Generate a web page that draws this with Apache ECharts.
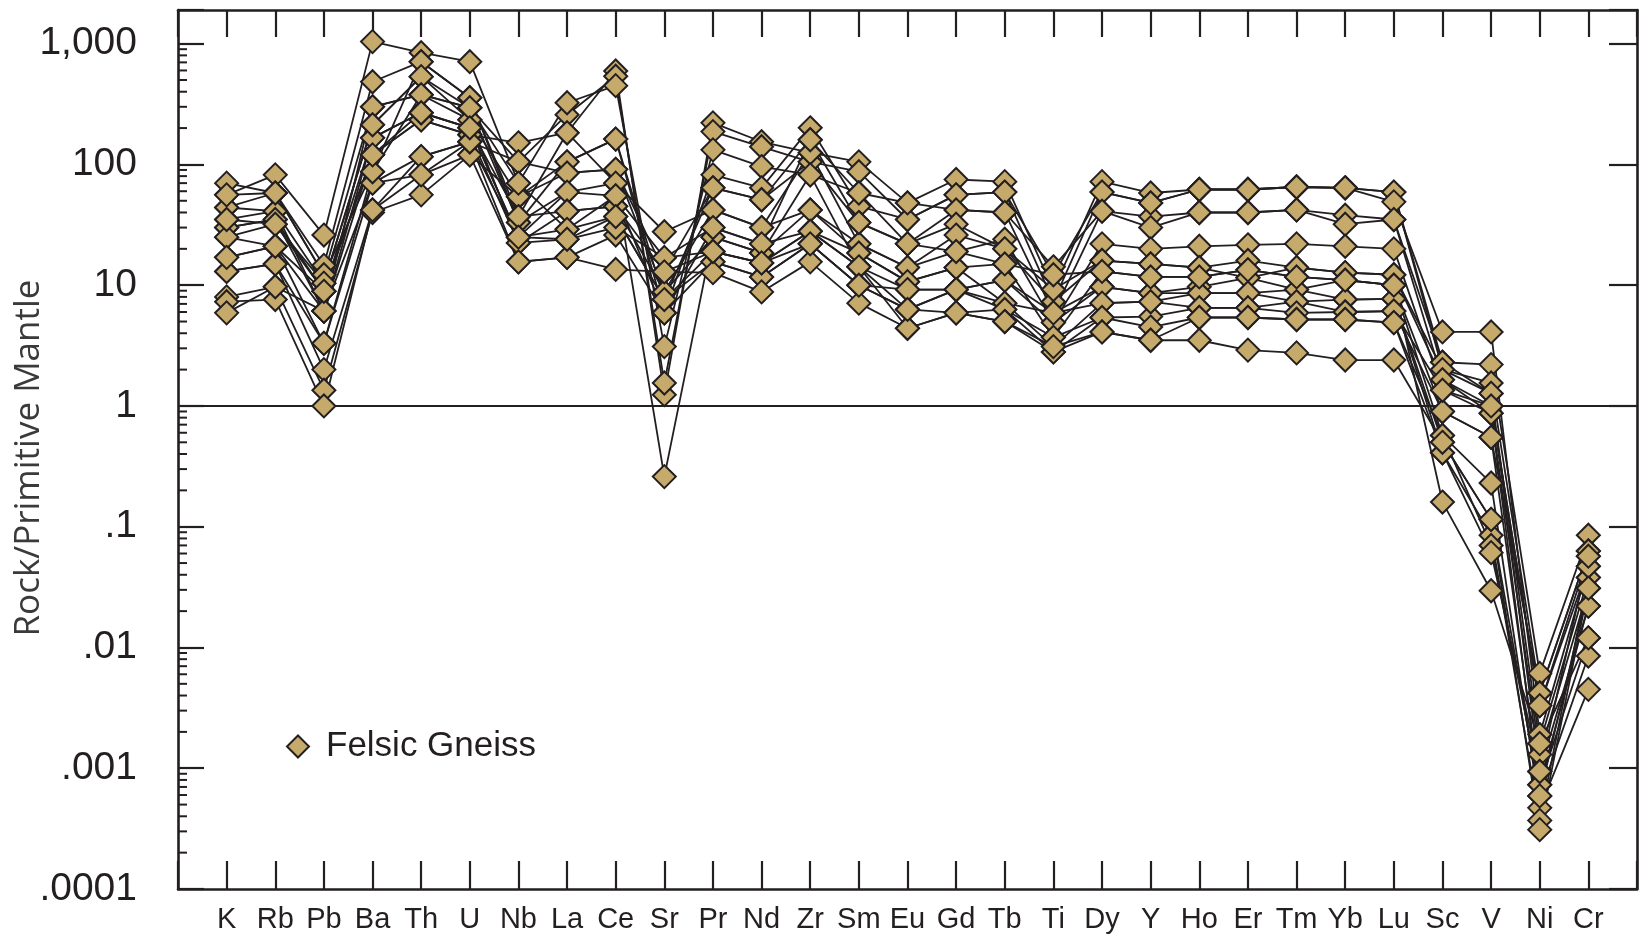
<!DOCTYPE html>
<html><head><meta charset="utf-8">
<script src="https://cdn.jsdelivr.net/npm/echarts@6/dist/echarts.min.js"></script>
<style>html,body{margin:0;padding:0;background:#fff}#c{width:1645px;height:942px}</style>
</head><body><div id="c"></div>
<script>
// ---- data ----
const elements = ['K','Rb','Pb','Ba','Th','U','Nb','La','Ce','Sr','Pr','Nd','Zr','Sm','Eu','Gd','Tb','Ti','Dy','Y','Ho','Er','Tm','Yb','Lu','Sc','V','Ni','Cr'];
const yTickLabels = ['.0001','.001','.01','.1','1','10','100','1,000'];
const seriesName = 'Felsic Gneiss';
const yAxisTitle = 'Rock/Primitive Mantle';

const s01 = [30,35,6.1,120,234,176,151,183,594,1.24,221,154,125,105,48,75,72,9.2,72,58,62,62,65,64,59,2.3,2.2,0.0061,0.085];
const s02 = [44,58,12.2,300,378,295,105,258,537,1.55,187,140,105,87,35,56,59,7.3,59,48,62,62,65,64,59,2.0,1.55,0.0042,0.063];
const s03 = [56,82,26,1040,842,709,70,324,449,3.1,132,96,82,58,22,42,40,5.9,41,37,40,40,42,38,35,1.65,1.0,0.0033,0.057];
const s04 = [13,15,2.0,42,82,120,54,105,162,5.9,82,64,201,45,35,56,59,12.2,59,48,62,62,65,64,49,4.1,4.1,0.0019,0.047];
const s05 = [17,21,3.3,70,116,154,105,85,91,12.9,64,51,160,58,48,42,40,14.2,41,30,40,40,42,32,35,2.3,1.27,0.0016,0.038];
const s06 = [70,58,14.6,484,709,357,37,183,70,27.7,42,30,42,22,14,19,24,4.9,22,20,21,21.6,22,21,20,1.35,0.87,0.0013,0.031];
const s07 = [35,41,10.4,213,533,295,33,105,162,7.6,64,51,105,33,22,32,20,7.3,16,15,14,16,14,12.7,12.2,2.0,1.27,0.00094,0.022];
const s08 = [25,32,8.9,166,268,201,25,59,55,16.9,30,22,28,18.5,10.7,14,15,3.7,13,11.7,11.7,13.4,11.7,11,10,0.9,0.55,0.00073,0.012];
const s09 = [44,41,6.1,300,378,234,54,85,91,8.8,42,30,125,22,14,26,20,9.2,16,15,14,11.5,14,12.7,12.2,1.65,0.87,0.00059,0.0085];
const s10 = [8,9.7,1.35,40,56,120,15.6,17,26,5.9,15.6,11.7,22,10,6.3,9.2,11,5.9,9.7,8.6,9.7,11.5,9.2,11,10,0.57,0.23,0.00047,0.0045];
const s11 = [56,58,12.2,87,709,357,33,59,70,0.26,25,18.5,82,14.2,4.4,5.9,6.3,2.8,5.4,5.5,6.5,6.5,7.3,7.6,7.7,0.41,0.085,0.00037,0.038];
const s12 = [30,35,8.9,120,234,176,22.4,41,45,12.9,19,15.3,28,14.2,6.3,9.2,7.1,3.1,7.1,7.3,8.6,8.6,9.2,7.6,7.7,0.5,0.115,0.00031,0.031];
const s13 = [7.3,7.6,1.0,42,116,154,25,29,37,7.6,15.6,11.7,22,10,9.2,9.2,11,4.9,9.7,8.6,8.6,8.6,7.3,6,6.1,0.9,0.55,0.0042,0.063];
const s14 = [25,21,6.1,166,268,201,37,41,45,8.8,25,18.5,42,18.5,10.7,14,7.1,5.9,7.1,7.3,6.5,6.5,5.9,6,6.1,1.35,1.0,0.0033,0.047];
const s15 = [35,32,10.4,213,533,234,22.4,24,30,16.9,19,15.3,28,14.2,9.2,9.2,6.3,3.7,5.4,4.5,5.4,5.4,5.2,5.2,4.9,0.57,0.07,0.00073,0.022];
const s16 = [5.9,9.7,6.1,70,82,154,15.6,17,13.5,12.9,12.7,8.8,15.6,7.1,4.4,5.9,5,2.8,4.1,3.5,5.4,5.4,5.2,5.2,4.9,0.41,0.061,0.00094,0.057];
const s17 = [13,15,3.3,87,378,295,70,29,55,5.9,30,22,160,33,22,19,15,12.2,13,11.7,11.7,13.4,11.7,11,10,0.16,0.0295,0.0016,0.012];
const s18 = [17,21,8.9,120,268,201,25,24,37,7.6,19,15.3,22,10,6.3,5.9,5,3.1,4.1,3.5,3.5,2.9,2.75,2.4,2.4,0.5,0.115,0.00059,0.031];
const samples = [s01,s02,s03,s04,s05,s06,s07,s08,s09,s10,s11,s12,s13,s14,s15,s16,s17,s18];

// ---- chart ----
const INK = '#231f20', FILL = '#c6aa6c';
const xCats = [' '].concat(elements, ['  ']);

const pts = [];
samples.forEach(s => elements.forEach((e, i) => pts.push([e, s[i]])));

const minorVals = [];
for (let k = -4; k <= 2; k++) for (let m = 2; m <= 9; m++) minorVals.push([0, m * Math.pow(10, k)]);

const series = [{
  type: 'scatter', name: seriesName, data: pts, symbol: 'diamond', symbolSize: 23,
  itemStyle: { color: FILL, borderColor: INK, borderWidth: 2, opacity: 1 }, z: 5, silent: true
}];
samples.forEach((s, idx) => {
  const ser = {
    type: 'line', name: seriesName, data: elements.map((e, i) => [e, s[i]]), symbol: 'none',
    lineStyle: { color: INK, width: 1.8 }, itemStyle: { color: INK }, z: 2, silent: true
  };
  if (idx === 0) ser.markLine = {
    silent: true, symbol: 'none', label: { show: false },
    lineStyle: { color: INK, width: 2, type: 'solid' }, data: [{ yAxis: 1 }]
  };
  series.push(ser);
});
series.push({
  type: 'custom', name: '_minor', data: minorVals, silent: true, z: 3, clip: false,
  encode: { x: 0, y: 1 },
  renderItem: (params, api) => {
    const y = api.coord([0, api.value(1)])[1];
    const x0 = params.coordSys.x;
    return { type: 'line', shape: { x1: x0, y1: y, x2: x0 + 9, y2: y }, style: { stroke: INK, lineWidth: 2 } };
  }
});

const axisLine = { show: true, lineStyle: { color: INK, width: 2.6 } };
const tickStyle = { color: INK, width: 2.2 };
const fmt = v => {
  const e = Math.log10(v), r = Math.round(e);
  if (Math.abs(e - r) > 1e-6) return '';
  return yTickLabels[r + 4] || '';
};

const chart = echarts.init(document.getElementById('c'), null, { renderer: 'canvas' });
chart.setOption({
  animation: false,
  backgroundColor: '#fff',
  grid: { left: 178, right: 8, top: 10, bottom: 53, containLabel: false, outerBoundsMode: 'none' },
  legend: {
    show: true, left: 281, top: 724, itemWidth: 22, itemHeight: 22, selectedMode: false,
    data: [{ name: seriesName, icon: 'diamond', itemStyle: { color: FILL, borderColor: INK, borderWidth: 2 } }],
    textStyle: { fontSize: 35, color: INK, fontFamily: 'Liberation Sans', padding: [0, 0, 0, 12] }
  },
  graphic: [{
    type: 'text', x: 29, y: 458, rotation: Math.PI / 2, silent: true,
    style: { text: yAxisTitle, fontSize: 35, fontFamily: 'Open Sans', fill: '#3a3a3a', align: 'center', verticalAlign: 'middle' }
  }],
  xAxis: [{
    type: 'category', data: xCats, boundaryGap: false, position: 'bottom',
    axisLine, axisTick: { show: true, inside: true, length: 28, interval: 0, lineStyle: tickStyle },
    axisLabel: { interval: 0, margin: 16, fontSize: 29, color: INK, fontFamily: 'Liberation Sans' },
    splitLine: { show: false }
  }, {
    type: 'category', data: xCats, boundaryGap: false, position: 'top',
    axisLine, axisTick: { show: true, inside: true, length: 27, interval: 0, lineStyle: tickStyle },
    axisLabel: { show: false }, splitLine: { show: false }
  }],
  yAxis: [{
    type: 'log', logBase: 10, min: 0.0001, max: 1900, splitNumber: 8, position: 'left',
    axisLine, axisTick: { show: true, inside: true, length: 26, lineStyle: tickStyle },
    axisLabel: { formatter: fmt, fontSize: 39, margin: 41, color: INK, fontFamily: 'Liberation Sans' },
    splitLine: { show: false }, minorTick: { show: false }
  }, {
    type: 'log', logBase: 10, min: 0.0001, max: 1900, splitNumber: 8, position: 'right',
    axisLine, axisTick: { show: true, inside: true, length: 28, lineStyle: tickStyle },
    axisLabel: { show: false }, splitLine: { show: false }
  }],
  series
});
</script></body></html>
